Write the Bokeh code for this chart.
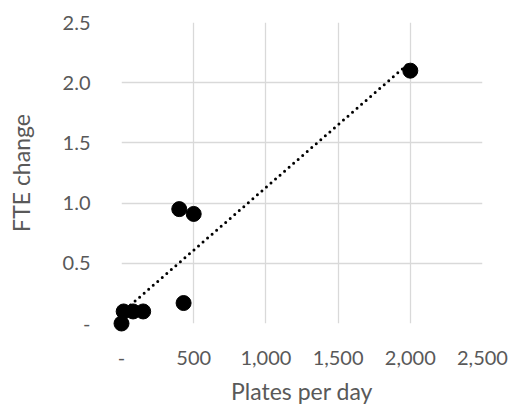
import numpy as np
from bokeh.plotting import figure
from bokeh.models import FixedTicker, Range1d
from bokeh.embed import file_html
from bokeh.resources import INLINE

plates_per_day = [0, 15, 80, 150, 430, 400, 500, 2000]
fte_change = [0.0, 0.1, 0.1, 0.1, 0.17, 0.95, 0.91, 2.1]

x_ticks = [0, 500, 1000, 1500, 2000, 2500]
x_labels = ["-", "500", "1,000", "1,500", "2,000", "2,500"]
y_ticks = [0, 0.5, 1.0, 1.5, 2.0, 2.5]
y_labels = ["-", "0.5", "1.0", "1.5", "2.0", "2.5"]

FONT = "Lato"
GREY = "#595959"

p = figure(width=519, height=407, output_backend="svg", toolbar_location=None,
           x_range=Range1d(0, 2500), y_range=Range1d(0, 2.5))
p.min_border_left = 121
p.min_border_right = 37
p.min_border_top = 22
p.min_border_bottom = 83
p.outline_line_color = None

# trendline (linear fit)
slope, intercept = np.polyfit(plates_per_day, fte_change, 1)
tx = np.array([min(plates_per_day), max(plates_per_day)], dtype=float)
ty = slope * tx + intercept
p.line(tx, ty, line_color="black", line_width=3, line_dash="0 6", line_cap="round")

r = p.scatter(plates_per_day, fte_change, size=15, color="black")
r.level = "overlay"

for ax in (p.xaxis[0], p.yaxis[0]):
    ax.axis_line_color = None
    ax.major_tick_line_color = None
    ax.minor_tick_line_color = None
    ax.major_label_text_font = FONT
    ax.major_label_text_font_size = "20px"
    ax.major_label_text_color = GREY
    ax.axis_label_text_font = FONT
    ax.axis_label_text_font_size = "23px"
    ax.axis_label_text_color = GREY
    ax.axis_label_text_font_style = "normal"

p.xaxis.ticker = FixedTicker(ticks=x_ticks)
p.xaxis.major_label_overrides = {t: l for t, l in zip(x_ticks, x_labels)}
p.yaxis.ticker = FixedTicker(ticks=y_ticks)
p.yaxis.major_label_overrides = {t: l for t, l in zip(y_ticks, y_labels)}
p.xaxis.axis_label = "Plates per day"
p.yaxis.axis_label = "FTE change"
p.xaxis.major_label_standoff = 21
p.xaxis.axis_label_standoff = 9
p.yaxis.major_label_standoff = 25
p.yaxis.axis_label_standoff = 25

p.xgrid.grid_line_color = "#d9d9d9"
p.ygrid.grid_line_color = "#d9d9d9"
p.xgrid.grid_line_width = 1.3
p.ygrid.grid_line_width = 1.3

open("out.html", "w").write(file_html(p, INLINE))
